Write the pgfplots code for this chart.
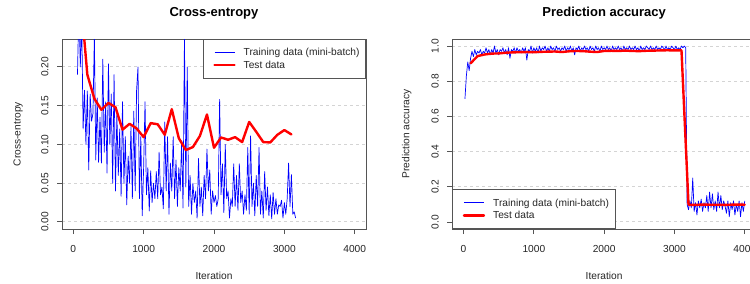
\documentclass[border=0pt]{standalone}
\usepackage{fontspec}
\setmainfont{Liberation Sans}
\usepackage{pgfplots}
\usepackage{pgfplotstable}
\pgfplotsset{compat=1.18}

\definecolor{rblue}{RGB}{0,0,255}
\definecolor{rred}{RGB}{255,0,0}
\definecolor{rframe}{RGB}{85,85,85}
\definecolor{rgrid}{RGB}{212,212,212}

\pgfplotstableread{
it ce
60 0.19
80 0.28
100 0.20
120 0.26
140 0.12
160 0.17
180 0.10
200 0.169
220 0.067
240 0.165
260 0.13
280 0.14
300 0.24
320 0.08
340 0.16
360 0.077
380 0.135
400 0.076
420 0.21
440 0.09
460 0.155
480 0.063
500 0.204
520 0.10
540 0.165
560 0.05
580 0.19
600 0.04
620 0.14
640 0.06
660 0.12
680 0.033
700 0.155
720 0.05
740 0.11
760 0.022
780 0.085
800 0.05
820 0.123
840 0.03
860 0.143
880 0.04
900 0.17
920 0.20
940 0.03
960 0.11
980 0.008
1000 0.07
1020 0.155
1040 0.035
1060 0.07
1080 0.014
1100 0.066
1120 0.025
1140 0.05
1160 0.03
1180 0.065
1200 0.03
1220 0.09
1240 0.035
1260 0.045
1280 0.017
1300 0.129
1320 0.04
1340 0.11
1360 0.01
1380 0.076
1400 0.04
1420 0.11
1440 0.03
1460 0.08
1480 0.02
1500 0.07
1520 0.04
1540 0.105
1560 0.018
1580 0.236
1600 0.045
1620 0.20
1640 0.02
1660 0.06
1680 0.01
1700 0.05
1720 0.025
1740 0.04
1760 0.005
1780 0.082
1800 0.02
1820 0.045
1840 0.008
1860 0.06
1880 0.03
1900 0.094
1920 0.04
1940 0.067
1960 0.01
1980 0.04
2000 0.025
2020 0.034
2040 0.02
2060 0.03
2080 0.158
2100 0.035
2120 0.075
2140 0.012
2160 0.10
2180 0.03
2200 0.04
2220 0.005
2240 0.03
2260 0.02
2280 0.075
2300 0.02
2320 0.06
2340 0.015
2360 0.075
2380 0.025
2400 0.04
2420 0.01
2440 0.035
2460 0.015
2480 0.096
2500 0.01
2520 0.111
2540 0.02
2560 0.05
2580 0.008
2600 0.06
2620 0.02
2640 0.096
2660 0.01
2680 0.04
2700 0.005
2720 0.065
2740 0.015
2760 0.045
2780 0.008
2800 0.035
2820 0.004
2840 0.038
2860 0.01
2880 0.03
2900 0.01
2920 0.022
2940 0.02
2960 0.028
2980 0.005
3000 0.025
3020 0.01
3040 0.03
3060 0.076
3080 0.02
3100 0.061
3120 0.01
3140 0.013
3160 0.005
}\trainCE

\pgfplotstableread{
it ce
100 0.295
200 0.190
300 0.159
400 0.1446
500 0.1536
600 0.148
700 0.119
800 0.1266
900 0.1206
1000 0.1094
1100 0.1275
1200 0.126
1300 0.1124
1400 0.1455
1500 0.108
1600 0.0927
1700 0.0966
1800 0.111
1900 0.1386
2000 0.0957
2100 0.109
2200 0.106
2300 0.1094
2400 0.103
2500 0.129
2600 0.1163
2700 0.103
2800 0.1026
2900 0.1124
3000 0.1185
3100 0.1129
}\testCE

\pgfplotstableread{
it acc
20 0.70
40 0.83
60 0.91
80 0.86
100 0.93
120 0.97
140 0.94
160 0.98
180 0.95
200 0.97
220 0.96
240 0.98
260 0.95
280 0.97
300 0.96
320 0.99
340 0.96
360 0.98
380 0.95
400 0.98
420 0.96
440 1.00
460 0.96
480 0.98
500 0.95
520 0.98
540 0.97
560 0.99
580 0.96
600 0.98
620 0.95
640 0.99
660 0.93
680 0.98
700 0.97
720 0.99
740 0.96
760 0.99
780 0.97
800 0.98
820 0.96
840 0.99
860 0.97
880 0.99
900 0.92
920 0.98
940 0.97
960 1.00
980 0.96
1000 0.99
1020 0.97
1040 0.99
1060 0.96
1080 1.00
1100 0.97
1120 0.99
1140 0.98
1160 1.00
1180 0.97
1200 0.99
1220 0.97
1240 1.00
1260 0.98
1280 0.99
1300 0.97
1320 1.00
1340 0.98
1360 0.99
1380 0.97
1400 0.99
1420 0.98
1440 1.00
1460 0.97
1480 0.99
1500 0.98
1520 1.00
1540 0.97
1560 0.99
1580 0.95
1600 0.99
1620 0.98
1640 1.00
1660 0.97
1680 0.99
1700 0.98
1720 1.00
1740 0.98
1760 0.99
1780 0.97
1800 1.00
1820 0.98
1840 0.99
1860 0.97
1880 1.00
1900 0.98
1920 0.99
1940 0.97
1960 1.00
1980 0.98
2000 0.99
2020 0.98
2040 1.00
2060 0.98
2080 0.99
2100 0.97
2120 1.00
2140 0.98
2160 0.99
2180 0.98
2200 1.00
2220 0.98
2240 0.99
2260 0.97
2280 1.00
2300 0.98
2320 0.99
2340 0.98
2360 1.00
2380 0.98
2400 0.99
2420 0.98
2440 1.00
2460 0.98
2480 0.99
2500 0.97
2520 1.00
2540 0.98
2560 0.99
2580 0.98
2600 1.00
2620 0.99
2640 0.98
2660 1.00
2680 0.98
2700 0.99
2720 0.98
2740 1.00
2760 0.98
2780 0.99
2800 0.98
2820 1.00
2840 0.99
2860 0.98
2880 1.00
2900 0.98
2920 0.99
2940 0.98
2960 1.00
2980 0.99
3000 0.98
3020 1.00
3040 0.98
3060 0.99
3080 0.98
3100 1.00
3120 0.99
3140 1.00
3160 0.99
3180 0.10
3200 0.07
3220 0.12
3240 0.08
3260 0.25
3280 0.06
3300 0.11
3320 0.04
3340 0.12
3360 0.08
3380 0.13
3400 0.06
3420 0.11
3440 0.08
3460 0.15
3480 0.06
3500 0.17
3520 0.08
3540 0.16
3560 0.07
3580 0.12
3600 0.06
3620 0.17
3640 0.08
3660 0.15
3680 0.07
3700 0.12
3720 0.09
3740 0.05
3760 0.12
3780 0.03
3800 0.11
3820 0.07
3840 0.12
3860 0.04
3880 0.10
3900 0.06
3920 0.12
3940 0.03
3960 0.11
3980 0.06
4000 0.12
}\trainAcc

\pgfplotstableread{
it acc
100 0.902
200 0.943
300 0.952
400 0.957
500 0.958
600 0.962
700 0.964
800 0.965
900 0.966
1000 0.965
1100 0.967
1200 0.968
1300 0.969
1400 0.966
1500 0.970
1600 0.972
1700 0.971
1800 0.968
1900 0.966
2000 0.972
2100 0.973
2200 0.972
2300 0.974
2400 0.972
2500 0.971
2600 0.973
2700 0.974
2800 0.975
2900 0.976
3000 0.975
3100 0.976
3200 0.098
3300 0.097
3400 0.099
3500 0.098
3600 0.098
3700 0.097
3800 0.098
3900 0.099
4000 0.098
}\testAcc

\pgfplotsset{
  rstyle/.style={
    scale only axis, height=190bp,
    xmin=-160, xmax=4160,
    axis line style={draw=rframe, line width=0.9bp},
    tick style={draw=rframe, line width=0.9bp},
    tick align=outside, major tick length=5bp, tick pos=left,
    xtick={0,1000,2000,3000,4000},
    ymajorgrids,
    major grid style={draw=rgrid, line width=1bp, dash pattern=on 2.5bp off 3.5bp},
    tick label style={font=\fontsize{10.2bp}{12bp}\selectfont, text=black!85},
    label style={font=\fontsize{10.2bp}{12bp}\selectfont, text=black!85},
    every axis title shift=0pt,
    title style={font=\fontsize{13bp}{14bp}\selectfont\bfseries, anchor=center},
    /pgf/number format/assume math mode=true,
    /pgf/number format/set thousands separator={},
    scaled ticks=false,
    xticklabel style={anchor=north, yshift=-8bp},
    yticklabel style={rotate=90, anchor=south, yshift=5bp},
    legend cell align=left,
    legend image code/.code={\path (0bp,0bp); \draw[#1] (4bp,0bp) -- (24bp,0bp);},
    legend style={draw=rframe, line width=0.9bp, fill=white,
      font=\fontsize{10.2bp}{12.6bp}\selectfont, text=black!85,
      inner xsep=6bp, inner ysep=7.3bp, row sep=0.9bp, column sep=8bp,
      nodes={inner sep=0pt, text height=9.2bp, text depth=2.5bp}},
  },
  trainline/.style={color=rblue, line width=0.7bp, line join=round},
  testline/.style={color=rred, line width=2.4bp, line join=round, line cap=round},
}

\begin{document}
\begin{tikzpicture}[trim left=0bp, trim right=750bp]
\path[use as bounding box] (0bp,0bp) rectangle (750bp,-284bp);
\begin{axis}[rstyle,
  at={(62bp,-229bp)}, anchor=south west, width=304bp,
  ymin=-0.0091, ymax=0.236,
  ytick={0,0.05,0.1,0.15,0.2},
  yticklabel style={/pgf/number format/.cd, fixed, fixed zerofill, precision=2},
  title={Cross-entropy},
  title style={at={(axis description cs:0.5,1.1353)}},
  xlabel={Iteration},
  xlabel style={at={(axis description cs:0.5,-0.2458)}, anchor=center},
  ylabel={Cross-entropy},
  ylabel style={at={(axis description cs:-0.1447,0.5)}, anchor=center},
  legend style={at={(1,1)}, anchor=north east},
]
\addplot[trainline] table[x=it, y=ce] {\trainCE};
\addlegendentry{Training data (mini-batch)}
\addplot[testline] table[x=it, y=ce] {\testCE};
\addlegendentry{Test data}
\end{axis}

\begin{axis}[rstyle,
  at={(452.3bp,-229bp)}, anchor=south west, width=303.7bp,
  ymin=-0.04, ymax=1.04,
  ytick={0,0.2,0.4,0.6,0.8,1.0},
  yticklabel style={/pgf/number format/.cd, fixed, fixed zerofill, precision=1},
  title={Prediction accuracy},
  title style={at={(axis description cs:0.5,1.1353)}},
  xlabel={Iteration},
  xlabel style={at={(axis description cs:0.5,-0.2458)}, anchor=center},
  ylabel={Prediction accuracy},
  ylabel style={at={(axis description cs:-0.150,0.5)}, anchor=center},
  legend style={at={(0,0)}, anchor=south west},
]
\addplot[trainline] table[x=it, y=acc] {\trainAcc};
\addlegendentry{Training data (mini-batch)}
\addplot[testline] table[x=it, y=acc] {\testAcc};
\addlegendentry{Test data}
\end{axis}
\end{tikzpicture}
\end{document}
